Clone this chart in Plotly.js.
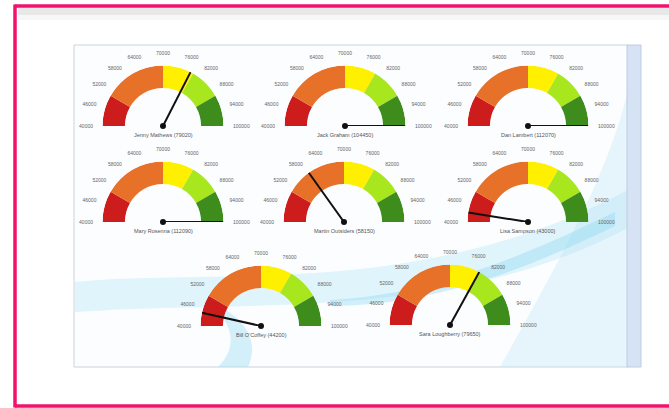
<!DOCTYPE html>
<html>
<head>
<meta charset="utf-8">
<script src="https://cdn.plot.ly/plotly-3.0.1.min.js"></script>
<style>
html,body{margin:0;padding:0;background:#ffffff;}
#chart{width:669px;height:408px;}
</style>
</head>
<body>
<div id="chart"></div>
<script>
// ---- data ----
const names = ["Jenny Mathews", "Jack Graham", "Dan Lambert", "Mary Rosenna",
               "Martin Outsiders", "Lisa Sampson", "Bill O'Coffey", "Sara Loughberry"];
const values = [79020, 104450, 112070, 112090, 58150, 43000, 44200, 79650];
const scaleMin = 40000;
const scaleMax = 100000;
const bandStarts = [40000, 50000, 70000, 80000, 90000];
const bandEnds   = [50000, 70000, 80000, 90000, 100000];
const bandColors = ["#cc1c1c", "#e8712a", "#fff000", "#a8e61e", "#3d8c1c"];
const tickValues = [40000, 46000, 52000, 58000, 64000, 70000, 76000, 82000, 88000, 94000, 100000];
const tickLabels = ["40000", "46000", "52000", "58000", "64000", "70000", "76000", "82000", "88000", "94000", "100000"];

// ---- layout (pixel positions of gauge centres) ----
const W = 669, H = 408, R = 60.5;
const centers = [[163,126],[345,126],[528,126],[163,222],[344,222],[528,222],[261,326],[450,325]];
const px = x => x / W;
const py = y => 1 - y / H;

// value -> angle (degrees) on a 180-degree sweep
const toDeg = v => (Math.min(Math.max(v, scaleMin), scaleMax) - scaleMin) / (scaleMax - scaleMin) * 180;

const traces = [];
const layout = {
  width: W, height: H,
  margin: {l:0, r:0, t:0, b:0},
  paper_bgcolor: "rgba(0,0,0,0)",
  plot_bgcolor: "rgba(0,0,0,0)",
  showlegend: false,
  font: {family: "Liberation Sans, Arial, sans-serif", color: "#555"},
  shapes: [],
  annotations: []
};

// background decorations
layout.shapes.push(
  // screenshot panel
  {type:"rect", xref:"paper", yref:"paper", x0:px(74), x1:px(628), y0:py(367), y1:py(45),
   fillcolor:"#fbfdff", line:{color:"#cdd2da", width:1}, layer:"below"},
  // light blue right side tint
  {type:"path", xref:"paper", yref:"paper", layer:"below", line:{width:0}, fillcolor:"rgba(205,235,248,0.45)",
   path:`M ${px(500)},${py(367)} L ${px(628)},${py(367)} L ${px(628)},${py(90)} C ${px(610)},${py(170)} ${px(560)},${py(260)} ${px(500)},${py(367)} Z`},
  // wave 1 (wide, pale)
  {type:"path", xref:"paper", yref:"paper", layer:"below", line:{width:0}, fillcolor:"rgba(175,225,244,0.35)",
   path:`M ${px(75)},${py(282)} C ${px(220)},${py(268)} ${px(420)},${py(300)} ${px(628)},${py(190)} L ${px(628)},${py(228)} C ${px(450)},${py(322)} ${px(250)},${py(300)} ${px(75)},${py(312)} Z`},
  // wave 2 (brighter streak)
  {type:"path", xref:"paper", yref:"paper", layer:"below", line:{width:0}, fillcolor:"rgba(130,212,240,0.35)",
   path:`M ${px(330)},${py(300)} C ${px(430)},${py(295)} ${px(520)},${py(258)} ${px(615)},${py(212)} L ${px(615)},${py(226)} C ${px(520)},${py(272)} ${px(430)},${py(306)} ${px(330)},${py(306)} Z`},
  // descending streak
  {type:"path", xref:"paper", yref:"paper", layer:"below", line:{width:0}, fillcolor:"rgba(150,218,242,0.4)",
   path:`M ${px(205)},${py(300)} C ${px(232)},${py(320)} ${px(240)},${py(345)} ${px(218)},${py(367)} L ${px(248)},${py(367)} C ${px(260)},${py(340)} ${px(245)},${py(315)} ${px(205)},${py(300)} Z`},
  // scrollbar
  {type:"rect", xref:"paper", yref:"paper", x0:px(627), x1:px(641), y0:py(367), y1:py(45),
   fillcolor:"#d6e3f4", line:{color:"#bccce3", width:1}, layer:"below"},
  // top shadow under frame
  {type:"rect", xref:"paper", yref:"paper", x0:px(18), x1:1.02, y0:py(15), y1:py(8),
   fillcolor:"rgba(190,190,190,0.35)", line:{width:0}, layer:"below"},
  {type:"rect", xref:"paper", yref:"paper", x0:px(18), x1:1.02, y0:py(20), y1:py(15),
   fillcolor:"rgba(200,200,200,0.15)", line:{width:0}, layer:"below"},
  // pink frame
  {type:"line", xref:"paper", yref:"paper", x0:px(15), x1:1.05, y0:py(6), y1:py(6), line:{color:"#f2126e", width:3.5}},
  {type:"line", xref:"paper", yref:"paper", x0:px(15), x1:1.05, y0:py(406), y1:py(406), line:{color:"#f2126e", width:3.5}},
  {type:"line", xref:"paper", yref:"paper", x0:px(15), x1:px(15), y0:py(4.5), y1:py(407.5), line:{color:"#f2126e", width:3.5}}
);

for (let g = 0; g < names.length; g++) {
  const sp = g === 0 ? "polar" : "polar" + (g + 1);
  const [cx, cy] = centers[g];
  layout[sp] = {
    domain: {x: [px(cx - R), px(cx + R)], y: [py(cy), py(cy - R)]},
    sector: [0, 180],
    bgcolor: "rgba(0,0,0,0)",
    radialaxis: {visible: false, range: [0, 1]},
    angularaxis: {
      rotation: 180, direction: "clockwise", thetaunit: "degrees",
      showgrid: false, showline: false, ticks: "outside", ticklen: 8, tickcolor: "rgba(0,0,0,0)",
      tickmode: "array", tickvals: tickValues.map(toDeg), ticktext: tickLabels,
      tickfont: {size: 5, color: "#666"}
    }
  };
  // bands
  traces.push({
    type: "barpolar", subplot: sp,
    theta: bandStarts.map((s, i) => (toDeg(s) + toDeg(bandEnds[i])) / 2),
    width: bandStarts.map((s, i) => toDeg(bandEnds[i]) - toDeg(s)),
    r: bandStarts.map(() => 0.37),
    base: bandStarts.map(() => 0.63),
    marker: {color: bandColors, line: {width: 0}},
    hoverinfo: "skip"
  });
  // needle
  const a = toDeg(values[g]);
  traces.push({
    type: "scatterpolar", subplot: sp, mode: "lines",
    r: [0, 1.0], theta: [a, a],
    line: {color: "#111111", width: 2},
    hoverinfo: "skip"
  });
  traces.push({
    type: "scatterpolar", subplot: sp, mode: "markers",
    r: [0], theta: [a],
    marker: {color: "#111111", size: 6},
    hoverinfo: "skip"
  });
  layout.annotations.push({
    xref: "paper", yref: "paper", x: px(cx), y: py(cy + 9),
    text: names[g] + " (" + values[g] + ")",
    showarrow: false, font: {size: 5.5, color: "#555"}, xanchor: "center", yanchor: "middle"
  });
}

Plotly.newPlot("chart", traces, layout, {displayModeBar: false, staticPlot: true});
</script>
</body>
</html>
